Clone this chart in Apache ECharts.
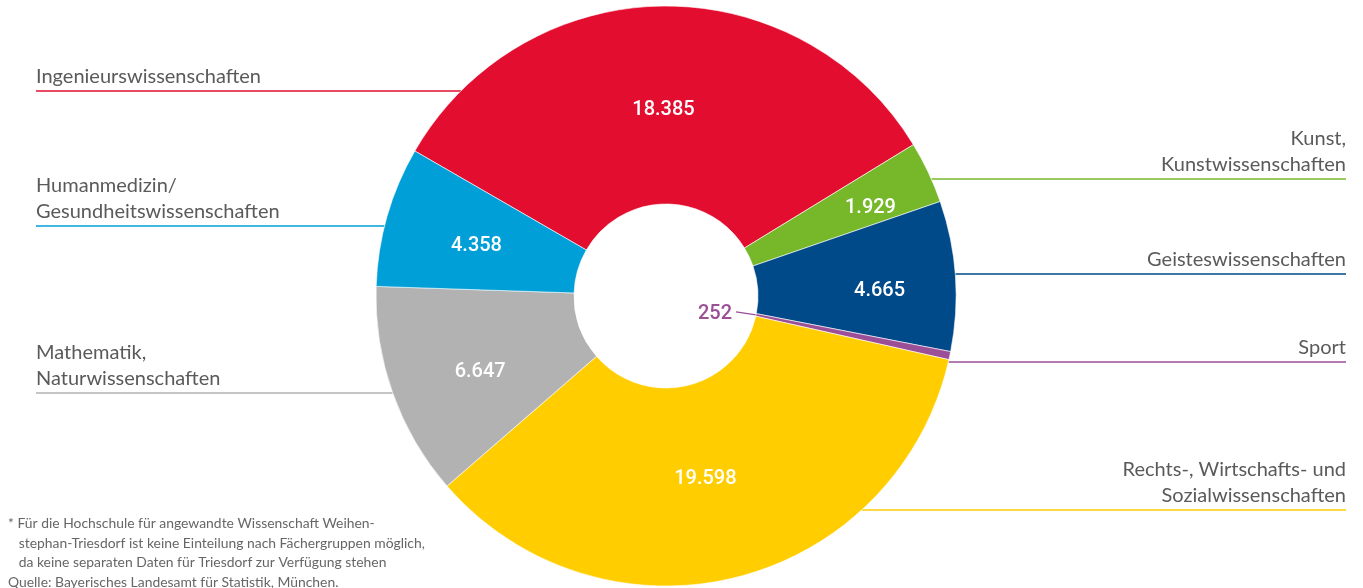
<!DOCTYPE html>
<html>
<head>
<meta charset="utf-8">
<style>
  html, body { margin: 0; padding: 0; background: #fff; }
  #chart { width: 1363px; height: 588px; }
</style>
<script src="https://cdn.jsdelivr.net/npm/echarts@6/dist/echarts.min.js"></script>
</head>
<body>
<div id="chart"></div>
<script>
// Fächergruppen (clockwise, starting at the top-left boundary)
var categories = [
  'Ingenieurswissenschaften',
  'Kunst,\nKunstwissenschaften',
  'Geisteswissenschaften',
  'Sport',
  'Rechts-, Wirtschafts- und\nSozialwissenschaften',
  'Mathematik,\nNaturwissenschaften',
  'Humanmedizin/\nGesundheitswissenschaften'
]
var values = [18385, 1929, 4665, 252, 19598, 6647, 4358]
var colors = ['#e30e2f', '#76b82a', '#004a8a', '#9b4f97', '#ffcd00', '#b2b2b2', '#009fd7']

// where each name label sits (rule y, left/right side)
var labelRuleY = [91, 179, 274, 362, 510, 393, 226]
var labelSide = ['left', 'right', 'right', 'right', 'right', 'left', 'left']
// small nudges of the value labels inside the ring
var valueNudge = [[0, 8], [29, -5], [20, 8], [0, 0], [-8, -5], [-3, 11], [-3, 3]]

var CX = 666, CY = 296, R0 = 92, R1 = 290
var LEFT_X = 36, RIGHT_X = 1346

var chartInstance = echarts.init(document.getElementById('chart'))

function fmt(v) {
  return String(v).replace(/\B(?=(\d{3})+(?!\d))/g, '.')
}

var pieData = values.map(function (v, i) {
  var item = { name: categories[i], value: v, itemStyle: { color: colors[i] } }
  if (i === 3) {
    // Sport: too small, value goes into the hole
    item.label = { position: 'outside', color: colors[i] }
    item.labelLine = { show: true, lineStyle: { color: colors[i], width: 1.2 } }
  }
  return item
})

var nameData = values.map(function (v, i) {
  return {
    name: categories[i], value: v,
    labelLine: { lineStyle: { color: colors[i], width: 1.5 } }
  }
})

var option = {
  animation: false,
  series: [
    {
      type: 'pie',
      center: [CX, CY],
      radius: [R0, R1],
      startAngle: 150,
      clockwise: true,
      silent: true,
      itemStyle: { borderColor: '#fff', borderWidth: 0.6 },
      label: {
        show: true,
        position: 'inside',
        formatter: function (p) { return fmt(p.value) },
        color: '#fff',
        fontFamily: 'Roboto',
        fontWeight: 500,
        fontSize: 20
      },
      labelLine: { show: false },
      labelLayout: function (params) {
        var i = params.dataIndex
        if (i !== 3) return { dx: valueNudge[i][0], dy: valueNudge[i][1] }
        var p0 = params.labelLinePoints[0]
        var a = Math.atan2(p0[1] - CY, p0[0] - CX)
        var ix = CX + R0 * Math.cos(a)
        var iy = CY + R0 * Math.sin(a)
        return {
          x: ix - 24,
          y: iy - 1,
          align: 'right',
          verticalAlign: 'middle',
          labelLinePoints: [[ix, iy], [ix, iy], [ix - 20, iy - 3]]
        }
      },
      data: pieData
    },
    {
      type: 'pie',
      center: [CX, CY],
      radius: [R0, R1],
      startAngle: 150,
      clockwise: true,
      silent: true,
      itemStyle: { color: 'rgba(0,0,0,0)' },
      label: {
        show: true,
        position: 'outside',
        formatter: '{b}',
        color: '#5a5a5a',
        fontFamily: 'Lato',
        fontSize: 20,
        lineHeight: 26
      },
      labelLine: { show: true, length: 5, length2: 5 },
      labelLayout: function (params) {
        var i = params.dataIndex
        var y = labelRuleY[i]
        var dx = Math.sqrt(Math.max(0, R1 * R1 - (y - CY) * (y - CY)))
        var left = labelSide[i] === 'left'
        var edge = left ? LEFT_X : RIGHT_X
        var cx = left ? CX - dx : CX + dx
        return {
          x: edge,
          y: y - 1,
          align: left ? 'left' : 'right',
          verticalAlign: 'bottom',
          labelLinePoints: [[cx, y], [cx, y], [edge, y]]
        }
      },
      data: nameData
    }
  ],
  graphic: [
    {
      type: 'text',
      left: 8,
      top: 514,
      style: {
        text: '* Für die Hochschule für angewandte Wissenschaft Weihen-\n   stephan-Triesdorf ist keine Einteilung nach Fächergruppen möglich,\n   da keine separaten Daten für Triesdorf zur Verfügung stehen\nQuelle: Bayerisches Landesamt für Statistik, München.',
        fill: '#666',
        font: '13.9px Lato',
        lineHeight: 19.5
      }
    }
  ]
}

chartInstance.setOption(option)
</script>
</body>
</html>
